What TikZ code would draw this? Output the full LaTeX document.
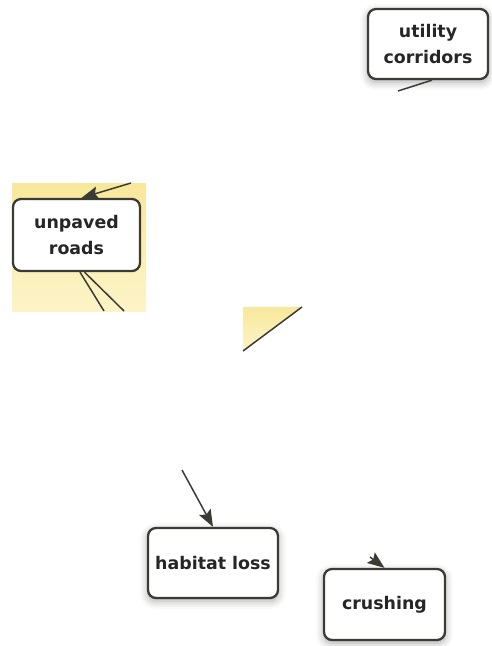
\documentclass[tikz,border=0pt]{standalone}
\usepackage{fontspec}
\setmainfont{DejaVu Sans}
\usetikzlibrary{arrows.meta,shadows.blur}
\definecolor{panelyellow}{RGB}{248,232,155}
\definecolor{panellight}{RGB}{252,244,200}
\definecolor{edgegray}{RGB}{60,58,52}
\begin{document}
\begin{tikzpicture}[x=0.02cm, y=-0.02cm,
        box/.style={rectangle, rounded corners=0.16cm, draw=edgegray, fill=white, line width=1.3pt, align=center, text=black!85, font=\bfseries\fontsize{9.9}{15}\selectfont},
        haze/.style={blur shadow={shadow xshift=0pt, shadow yshift=-0.06cm, shadow blur radius=0.16cm, shadow opacity=35}},
        link/.style={draw=edgegray, line width=0.85pt},
        headed/.style={-{Stealth[length=0.34cm, width=0.26cm, inset=0.06cm]}}]
        \useasboundingbox (0,0) rectangle (491,646);
        % yellow pieces
        \shade[top color=panelyellow, bottom color=panellight] (12,183) rectangle (146,311);
        \shade[top color=panelyellow, bottom color=panellight] (243,307) -- (302,307) -- (243,351) -- cycle;
        \draw[link] (243,351) -- (302,307);
        \node[box, haze, minimum width=2.4cm, minimum height=1.4cm] (corridors) at (428,44) {utility\\corridors};
        \node[box, minimum width=2.54cm, minimum height=1.44cm] (roads) at (76.5,235) {unpaved\\roads};
        \node[box, haze, minimum width=2.6cm, minimum height=1.4cm] (loss) at (213,563) {habitat loss};
        \node[box, haze, minimum width=2.42cm, minimum height=1.42cm] (crush) at (384.5,604.5) {crushing};
        \coordinate (corridorsEnd) at (398,91);
        \coordinate (roadsIn) at (131,183);
        \coordinate (roadsOutA) at (104,311);
        \coordinate (roadsOutB) at (124,311);
        \coordinate (lossIn) at (182,470);
        \coordinate (crushIn) at (370,557);
        \draw[link] ([xshift=0.08cm]corridors.south) -- (corridorsEnd);
        \draw[link, headed] (roadsIn) -- ([xshift=0.1cm]roads.north);
        \draw[link] ([xshift=0.07cm]roads.south) -- (roadsOutA);
        \draw[link] ([xshift=0.16cm]roads.south) -- (roadsOutB);
        \draw[link, headed] (lossIn) -- (loss.north);
        \draw[link, headed] (crushIn) -- (crush.north);
    \end{tikzpicture}
\end{document}
